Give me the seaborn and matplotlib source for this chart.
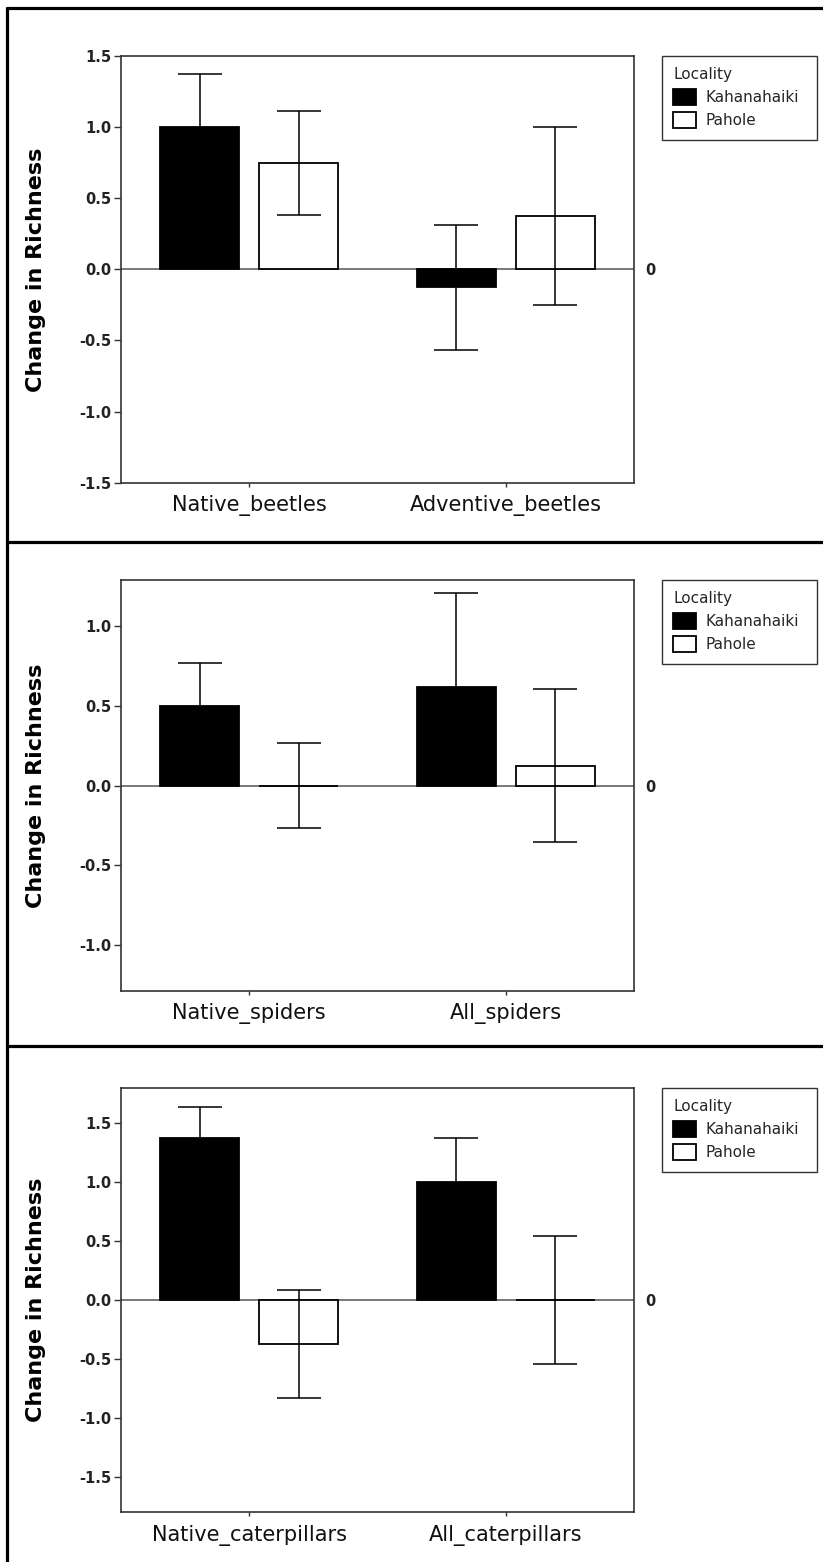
import matplotlib
matplotlib.use("Agg")
import matplotlib.pyplot as plt
import seaborn as sns
import pandas as pd
from matplotlib.lines import Line2D
from matplotlib.ticker import FormatStrFormatter

# ---------------- data ----------------
localities = ["Kahanahaiki", "Pahole"]

beetle_groups = ["Native_beetles", "Adventive_beetles"]
beetle_kah = [1.0, -0.125]
beetle_kah_se = [0.375, 0.44]
beetle_pah = [0.75, 0.375]
beetle_pah_se = [0.365, 0.625]

spider_groups = ["Native_spiders", "All_spiders"]
spider_kah = [0.5, 0.62]
spider_kah_se = [0.27, 0.59]
spider_pah = [0.0, 0.125]
spider_pah_se = [0.265, 0.48]

cat_groups = ["Native_caterpillars", "All_caterpillars"]
cat_kah = [1.375, 1.0]
cat_kah_se = [0.265, 0.375]
cat_pah = [-0.375, 0.0]
cat_pah_se = [0.458, 0.54]

y_limits = [1.5, 1.29, 1.8]
y_ticks_1 = [-1.5, -1.0, -0.5, 0.0, 0.5, 1.0, 1.5]
y_ticks_2 = [-1.0, -0.5, 0.0, 0.5, 1.0]
y_ticks_3 = [-1.5, -1.0, -0.5, 0.0, 0.5, 1.0, 1.5]
y_label = "Change in Richness"
legend_title = "Locality"

# ---------------- style ----------------
sns.set_theme(style="ticks")
plt.rcParams["font.family"] = ["DejaVu Sans"]
plt.rcParams["axes.unicode_minus"] = False

W, H = 823, 1562
fig = plt.figure(figsize=(W / 100, H / 100), dpi=100)
fig.patch.set_facecolor("white")

palette = {"Kahanahaiki": "black", "Pahole": "white"}

panels = [
    (beetle_groups, beetle_kah, beetle_kah_se, beetle_pah, beetle_pah_se, y_limits[0], y_ticks_1, 56, 482.7),
    (spider_groups, spider_kah, spider_kah_se, spider_pah, spider_pah_se, y_limits[1], y_ticks_2, 580, 991),
    (cat_groups, cat_kah, cat_kah_se, cat_pah, cat_pah_se, y_limits[2], y_ticks_3, 1088, 1512),
]

ax_left_px, ax_right_px = 121, 634
for groups, kah, kah_se, pah, pah_se, ylim, yticks, top_px, bot_px in panels:
    ax = fig.add_axes([ax_left_px / W, 1 - bot_px / H,
                       (ax_right_px - ax_left_px) / W, (bot_px - top_px) / H])
    df = pd.DataFrame({
        "Group": groups + groups,
        "Locality": [localities[0]] * len(groups) + [localities[1]] * len(groups),
        "Change": kah + pah,
    })
    ax.axhline(0, color="#555555", lw=1.1, zorder=1)
    sns.barplot(data=df, x="Group", y="Change", hue="Locality",
                order=groups, hue_order=localities, palette=palette,
                width=0.77, gap=0.2, edgecolor="black", linewidth=1.3,
                errorbar=None, ax=ax, zorder=2)
    for cont, vals, errs in zip(ax.containers, [kah, pah], [kah_se, pah_se]):
        xs = [b.get_x() + b.get_width() / 2 for b in cont]
        ax.errorbar(xs, vals, yerr=errs, fmt="none", ecolor="black",
                    elinewidth=1.1, capsize=16, capthick=1.1, zorder=3)

    ax.set_xlim(-0.5, 1.5)
    ax.set_ylim(-ylim, ylim)
    ax.set_yticks(yticks)
    ax.yaxis.set_major_formatter(FormatStrFormatter("%.1f"))
    ax.set_xlabel("")
    ax.set_ylabel(y_label, fontsize=16, fontweight="bold", color="black")
    ax.yaxis.set_label_coords((46 - ax_left_px) / (ax_right_px - ax_left_px), 0.5)
    ax.tick_params(axis="y", direction="out", length=5, width=1.0, color="#333333",
                   labelsize=10.5, pad=2, labelcolor="#222222")
    for lab in ax.get_yticklabels():
        lab.set_fontweight("bold")
    ax.tick_params(axis="x", direction="out", length=3, width=1.0, color="#333333",
                   labelsize=15, pad=6, labelcolor="#111111")
    for sp in ax.spines.values():
        sp.set_visible(True)
        sp.set_color("#333333")
        sp.set_linewidth(1.2)
    ax.set_facecolor("white")

    sec = ax.secondary_yaxis("right")
    sec.set_yticks([0])
    sec.set_yticklabels(["0"])
    sec.tick_params(length=0, pad=8, labelsize=10.5, labelcolor="#222222")
    for lab in sec.get_yticklabels():
        lab.set_fontweight("bold")
    sec.spines["right"].set_visible(False)

    handles, labels = ax.get_legend_handles_labels()
    if ax.get_legend() is not None:
        ax.get_legend().remove()
    leg = ax.legend(handles, labels, title=legend_title, loc="upper left",
                    bbox_to_anchor=((662 - ax_left_px) / (ax_right_px - ax_left_px), 0,
                                    155 / (ax_right_px - ax_left_px), 1.0),
                    mode="expand", borderaxespad=0, frameon=True, fancybox=False,
                    edgecolor="#333333", framealpha=1, fontsize=11, title_fontsize=11,
                    alignment="left", handlelength=1.5, handleheight=1.2,
                    handletextpad=0.6, labelspacing=0.45, borderpad=0.75)
    leg.get_frame().set_linewidth(1.0)

# outer frame / dividers
lw_frame = 2.3
fig.add_artist(Line2D([6.5 / W, 1], [1 - 7.5 / H, 1 - 7.5 / H], transform=fig.transFigure,
                      color="black", lw=lw_frame))
fig.add_artist(Line2D([6.5 / W, 6.5 / W], [0, 1 - 7.5 / H], transform=fig.transFigure,
                      color="black", lw=lw_frame))
for ypx in (542, 1046):
    fig.add_artist(Line2D([6.5 / W, 1], [1 - ypx / H, 1 - ypx / H], transform=fig.transFigure,
                          color="black", lw=lw_frame))

fig.savefig("out.png", dpi=100, facecolor="white")
